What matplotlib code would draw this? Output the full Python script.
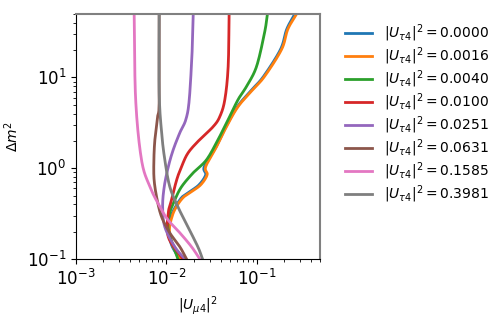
import numpy as np
import matplotlib
matplotlib.use("Agg")
import matplotlib.pyplot as plt

# values of |U_tau4|^2 for each contour
ut4 = [0.0000, 0.0016, 0.0040, 0.0100, 0.0251, 0.0631, 0.1585, 0.3981]

# contours: (|U_mu4|^2, dm^2), top to bottom
dm_a = [50, 33.9, 20.4, 10.3, 7.36, 4.78, 2.87, 1.73, 1.04, 0.847, 0.658, 0.55, 0.484, 0.396, 0.306, 0.209, 0.143, 0.1]
u_blue = [0.263, 0.214, 0.183, 0.119, 0.0885, 0.0610, 0.0455, 0.0355, 0.0262, 0.0272, 0.0230, 0.0180, 0.0150, 0.0130, 0.0114, 0.0106, 0.0114, 0.0140]
u_orange = [0.275, 0.220, 0.188, 0.122, 0.0904, 0.0621, 0.0462, 0.0359, 0.0272, 0.0282, 0.0240, 0.0188, 0.0156, 0.0133, 0.0117, 0.0108, 0.0117, 0.0143]

dm_green = [50, 31.4, 13.2, 7.96, 5.71, 3.43, 2.07, 1.24, 0.891, 0.625, 0.449, 0.322, 0.209, 0.1]
u_green = [0.131, 0.122, 0.0993, 0.0769, 0.0621, 0.0482, 0.0373, 0.0278, 0.0198, 0.0147, 0.0124, 0.0109, 0.0105, 0.0134]

dm_red = [50, 13.2, 5.71, 3.71, 2.87, 2.07, 1.48, 1.04, 0.746, 0.449, 0.322, 0.175, 0.1]
u_red = [0.0494, 0.0482, 0.0443, 0.039, 0.0329, 0.0234, 0.0174, 0.0147, 0.0130, 0.0114, 0.0105, 0.0105, 0.0152]

dm_purple = [50, 20.4, 5.71, 3.43, 2.47, 1.6, 1.04, 0.625, 0.376, 0.226, 0.136, 0.1]
u_purple = [0.0198, 0.0193, 0.0179, 0.0164, 0.0141, 0.0119, 0.0105, 0.00946, 0.00908, 0.0096, 0.0124, 0.0160]

dm_brown = [50, 5.5, 3.71, 2.07, 1.24, 0.746, 0.449, 0.291, 0.194, 0.136, 0.1]
u_brown = [0.00832, 0.00832, 0.0080, 0.00746, 0.00727, 0.00731, 0.0079, 0.00885, 0.0109, 0.0141, 0.0167]

dm_pink = [50, 5.71, 1.24, 0.625, 0.376, 0.27, 0.194, 0.136, 0.1]
u_pink = [0.0044, 0.00457, 0.0053, 0.00657, 0.00848, 0.0104, 0.0141, 0.019, 0.0234]

dm_gray = [50, 6.8, 2.47, 1.24, 0.625, 0.376, 0.226, 0.136, 0.1]
u_gray = [0.00832, 0.00832, 0.00885, 0.0096, 0.0109, 0.0134, 0.0173, 0.0223, 0.0251]

curves = [(u_blue, dm_a), (u_orange, dm_a), (u_green, dm_green), (u_red, dm_red),
          (u_purple, dm_purple), (u_brown, dm_brown), (u_pink, dm_pink), (u_gray, dm_gray)]


def smooth(x, y, n=20):
    # Catmull-Rom through the points, done in log space
    p = np.column_stack([np.log10(x), np.log10(y)])
    p = np.vstack([2 * p[0] - p[1], p, 2 * p[-1] - p[-2]])
    out = []
    t = np.linspace(0, 1, n, endpoint=False)[:, None]
    for i in range(1, len(p) - 2):
        p0, p1, p2, p3 = p[i - 1], p[i], p[i + 1], p[i + 2]
        seg = 0.5 * ((2 * p1) + (-p0 + p2) * t + (2 * p0 - 5 * p1 + 4 * p2 - p3) * t ** 2
                     + (-p0 + 3 * p1 - 3 * p2 + p3) * t ** 3)
        out.append(seg)
    out.append(p[-2][None, :])
    out = np.vstack(out)
    return 10 ** out[:, 0], 10 ** out[:, 1]


fig = plt.figure(figsize=(4.98, 3.18), dpi=100)
ax = fig.add_axes([0.1526, 0.1855, 0.49, 0.7705])

for i, (u, dm) in enumerate(curves):
    xs, ys = smooth(u, dm)
    ax.plot(xs, ys, color=f"C{i}", lw=2,
            label=r"$|U_{\tau 4}|^2 = %.4f$" % ut4[i])

ax.set_xscale("log")
ax.set_yscale("log")
ax.set_xlim(1e-3, 0.5)
ax.set_ylim(0.1, 50)
ax.set_xlabel(r"$|U_{\mu 4}|^2$", fontsize=10)
ax.set_ylabel(r"$\Delta m^2$", fontsize=10)
ax.tick_params(which="major", labelsize=12)

for s in ["top", "right"]:
    ax.spines[s].set_color("grey")
    ax.spines[s].set_linewidth(1.5)

ax.legend(loc="upper left", bbox_to_anchor=(1.05, 1.015), frameon=False,
          fontsize=10, labelspacing=0.1)

fig.savefig("out.png", dpi=100)
